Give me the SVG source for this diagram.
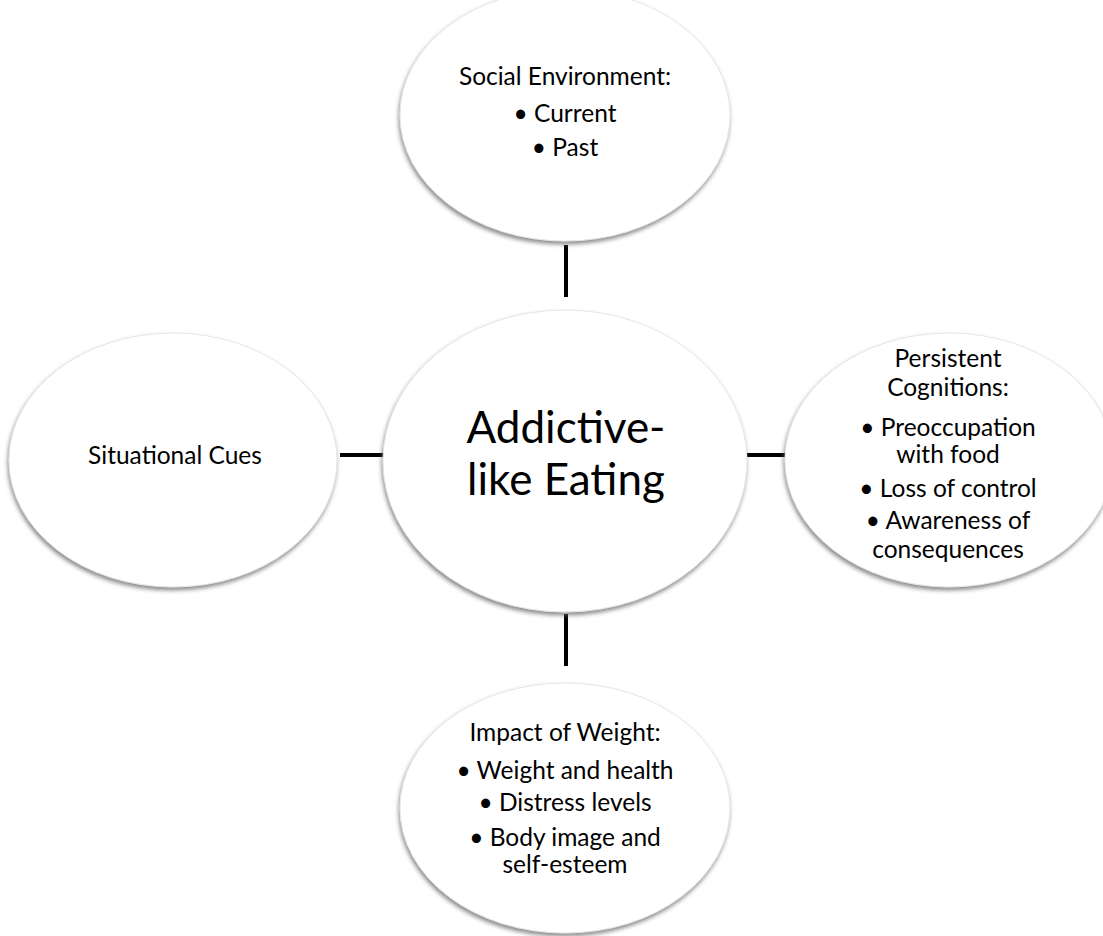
<svg xmlns="http://www.w3.org/2000/svg" width="1103" height="936" viewBox="0 0 1103 936">
<style>
.n{fill:#fff;stroke:#e6e6e6;stroke-width:1;filter:url(#sh)}
text{font-family:Lato,"Liberation Sans",sans-serif;fill:#000;text-anchor:middle}
.t{font-size:24.5px}
.big{font-size:44px}
.c{stroke:#000;stroke-width:4;fill:none}
</style>
<defs>
<filter id="sh" x="-10%" y="-10%" width="120%" height="125%">
<feDropShadow dx="-1" dy="3" stdDeviation="2" flood-color="#666" flood-opacity="0.75"/>
</filter>
</defs>
<rect width="1103" height="936" fill="#fff"/>
<g id="connectors">
<line class="c" x1="566" y1="245" x2="566" y2="297"/>
<line class="c" x1="566" y1="614" x2="566" y2="666"/>
<line class="c" x1="340" y1="455" x2="384" y2="455"/>
<line class="c" x1="747" y1="455" x2="785" y2="455"/>
</g>
<g id="social">
<ellipse class="n" cx="565" cy="115" rx="165" ry="126"/>
<text class="t" x="565" y="85">Social Environment:</text>
<text class="t" x="565" y="122">• Current</text>
<text class="t" x="565" y="156">• Past</text>
</g>
<g id="center">
<ellipse class="n" cx="565" cy="461" rx="182" ry="151"/>
<text class="big" x="566" y="443">Addictive-</text>
<text class="big" x="566" y="495">like Eating</text>
</g>
<g id="situational">
<ellipse class="n" cx="173" cy="460" rx="164" ry="127"/>
<text class="t" x="175" y="464">Situational Cues</text>
</g>
<g id="cognitions">
<ellipse class="n" cx="949" cy="460" rx="164" ry="127"/>
<text class="t" x="948" y="367">Persistent</text>
<text class="t" x="948" y="396">Cognitions:</text>
<text class="t" x="948" y="436">• Preoccupation</text>
<text class="t" x="948" y="463">with food</text>
<text class="t" x="948" y="497">• Loss of control</text>
<text class="t" x="948" y="529">• Awareness of</text>
<text class="t" x="948" y="558">consequences</text>
</g>
<g id="weight">
<ellipse class="n" cx="565" cy="808" rx="165" ry="125"/>
<text class="t" x="565" y="741">Impact of Weight:</text>
<text class="t" x="565" y="779">• Weight and health</text>
<text class="t" x="565" y="811">• Distress levels</text>
<text class="t" x="565" y="846">• Body image and</text>
<text class="t" x="565" y="873">self-esteem</text>
</g>
</svg>
